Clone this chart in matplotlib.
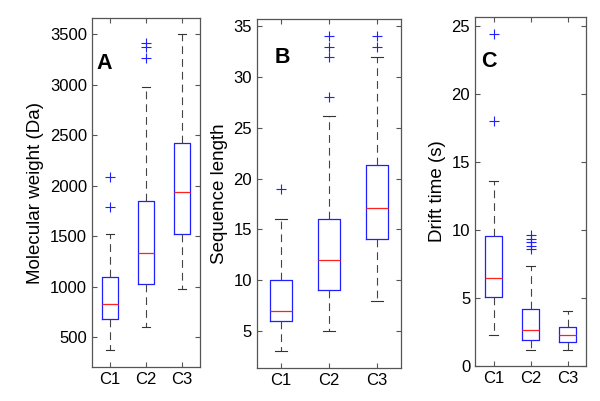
import numpy as np
import matplotlib.pyplot as plt

plt.rcParams['font.family'] = ['Liberation Sans', 'DejaVu Sans']

groups = ['C1', 'C2', 'C3']

# panel A: molecular weight (Da)
mw_whislo = [375, 605, 981]
mw_q1 = [678, 1031, 1519]
mw_med = [826, 1331, 1934]
mw_q3 = [1093, 1852, 2419]
mw_whishi = [1522, 2973, 3500]
mw_fliers = [[1786, 2089], [3263, 3374, 3414], []]

# panel B: sequence length
sl_whislo = [3, 5, 8]
sl_q1 = [6, 9, 14.1]
sl_med = [7, 12, 17.1]
sl_q3 = [10, 16, 21.3]
sl_whishi = [16, 26.2, 32]
sl_fliers = [[19], [28, 32, 33, 34], [33, 34]]

# panel C: drift time (s)
dt_whislo = [2.26, 1.18, 1.18]
dt_q1 = [5.1, 1.88, 1.73]
dt_med = [6.5, 2.66, 2.26]
dt_q3 = [9.53, 4.18, 2.87]
dt_whishi = [13.6, 7.33, 4.04]
dt_fliers = [[18.07, 24.43], [8.6, 8.85, 9.1, 9.35, 9.6], []]


def make_stats(lo, q1, med, q3, hi, fl):
    return [dict(whislo=lo[i], q1=q1[i], med=med[i], q3=q3[i], whishi=hi[i],
                 fliers=np.array(fl[i]), label=groups[i]) for i in range(len(groups))]


panels = [
    dict(stats=make_stats(mw_whislo, mw_q1, mw_med, mw_q3, mw_whishi, mw_fliers),
         pos=[0.1533, 0.0848, 0.180, 0.870], ylim=(206, 3658),
         yticks=np.arange(500, 3501, 500), ylabel='Molecular weight (Da)',
         letter='A', lx=0.04, ly=0.87),
    dict(stats=make_stats(sl_whislo, sl_q1, sl_med, sl_q3, sl_whishi, sl_fliers),
         pos=[0.4283, 0.0823, 0.240, 0.870], ylim=(1.36, 35.7),
         yticks=np.arange(5, 36, 5), ylabel='Sequence length',
         letter='B', lx=0.125, ly=0.89),
    dict(stats=make_stats(dt_whislo, dt_q1, dt_med, dt_q3, dt_whishi, dt_fliers),
         pos=[0.7917, 0.0873, 0.185, 0.870], ylim=(-0.02, 25.69),
         yticks=np.arange(0, 26, 5), ylabel='Drift time (s)',
         letter='C', lx=0.055, ly=0.874),
]

fig = plt.figure(figsize=(6.0, 4.01), dpi=100)

for p in panels:
    ax = fig.add_axes(p['pos'])
    ax.bxp(p['stats'], positions=[1, 2, 3], widths=0.46, capwidths=0.23,
           showfliers=True,
           boxprops=dict(color='#2020ff', linewidth=0.9),
           medianprops=dict(color='#ff2020', linewidth=0.9),
           whiskerprops=dict(color='#444444', linewidth=0.8, linestyle=(0, (7, 4.5))),
           capprops=dict(color='#333333', linewidth=0.8),
           flierprops=dict(marker='+', markeredgecolor='#2020ff', markersize=7,
                           markeredgewidth=0.8, linestyle='none'))
    ax.set_xlim(0.5, 3.5)
    ax.set_ylim(*p['ylim'])
    ax.set_yticks(p['yticks'])
    ax.set_xticks([1, 2, 3])
    ax.set_xticklabels(groups)
    ax.tick_params(direction='in', top=True, right=True, length=3.5,
                   width=0.8, color='#555555', labelsize=12)
    for s in ax.spines.values():
        s.set_color('#555555')
        s.set_linewidth(0.9)
    ax.set_ylabel(p['ylabel'], fontsize=13.5)
    ax.text(p['lx'], p['ly'], p['letter'], transform=ax.transAxes,
            fontsize=15.5, fontweight='bold', va='center', ha='left')

fig.savefig('out.png', dpi=100)
